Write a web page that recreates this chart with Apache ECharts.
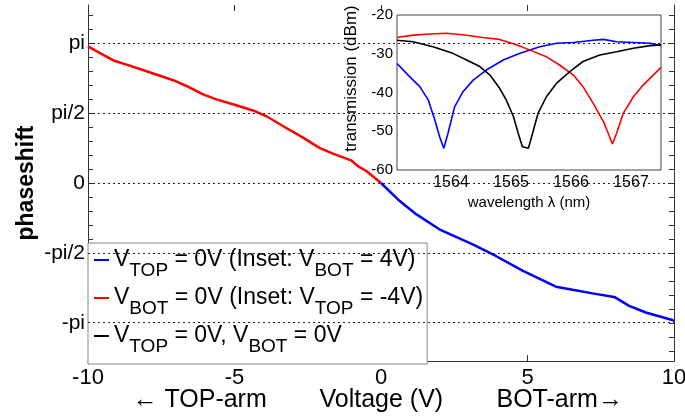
<!DOCTYPE html>
<html>
<head>
<meta charset="utf-8">
<script src="https://cdn.jsdelivr.net/npm/echarts@6/dist/echarts.min.js"></script>
<style>
  html, body { margin: 0; padding: 0; background: #fff; }
  #chart { width: 685px; height: 419px; }
</style>
</head>
<body>
<div id="chart"></div>
<script>
'use strict';

// main plot: phase shift vs voltage
var redVolt   = [-10, -9.59, -9.08, -8.68, -8.0, -7.09, -6.64, -6.07, -5.62, -5.05, -4.37, -3.91, -3.35, -2.66, -2.10, -1.64, -1.02, -0.79, -0.50, 0];
var redPhase  = [3.07, 2.92, 2.74, 2.66, 2.51, 2.31, 2.18, 1.99, 1.88, 1.77, 1.63, 1.50, 1.28, 1.02, 0.79, 0.66, 0.51, 0.38, 0.27, 0.0];
var blueVolt  = [0, 0.63, 1.20, 1.99, 3.13, 3.92, 4.83, 5.97, 6.54, 7.22, 7.96, 8.47, 9.04, 9.94, 10];
var bluePhase = [0, -0.40, -0.70, -1.04, -1.38, -1.64, -1.97, -2.33, -2.40, -2.48, -2.56, -2.76, -2.91, -3.08, -3.10];

// inset: transmission spectra
var blueWl = [1563.10, 1563.31, 1563.48, 1563.62, 1563.73, 1563.81, 1563.88, 1563.95, 1564.06, 1564.20, 1564.37, 1564.59, 1564.87, 1565.15, 1565.48, 1565.76, 1566.04, 1566.37, 1566.54, 1566.76, 1567.04, 1567.32, 1567.50];
var blueDb = [-32.5, -35.9, -38.5, -41.9, -47.1, -51.4, -54.4, -50.5, -43.7, -39.8, -36.8, -34.2, -31.6, -29.9, -28.2, -27.3, -27.1, -26.5, -26.3, -26.9, -27.1, -27.3, -27.9];
var redWl  = [1563.10, 1563.37, 1563.65, 1563.92, 1564.20, 1564.53, 1564.81, 1565.09, 1565.31, 1565.59, 1565.81, 1566.04, 1566.20, 1566.37, 1566.54, 1566.62, 1566.69, 1566.76, 1566.87, 1567.04, 1567.20, 1567.37, 1567.50];
var redDb  = [-25.8, -25.2, -24.9, -24.7, -25.1, -25.8, -26.3, -27.7, -29.0, -30.8, -32.9, -35.5, -38.5, -42.8, -47.5, -50.5, -53.3, -50.5, -45.4, -41.1, -38.1, -35.5, -33.5];
var blackWl = [1563.10, 1563.37, 1563.70, 1564.03, 1564.26, 1564.48, 1564.65, 1564.81, 1564.92, 1565.04, 1565.12, 1565.19, 1565.29, 1565.36, 1565.45, 1565.59, 1565.76, 1565.98, 1566.20, 1566.48, 1566.76, 1567.04, 1567.32, 1567.50];
var blackDb = [-26.5, -26.9, -28.2, -29.9, -31.6, -33.3, -35.5, -38.9, -41.9, -46.2, -50.5, -54.0, -54.4, -50.5, -45.4, -41.1, -37.6, -34.6, -32.0, -30.3, -29.5, -28.6, -27.9, -27.7];

var insetTicks = [1564, 1565, 1566, 1567];
var phaseLabels = [-Math.PI, -Math.PI / 2, 0, Math.PI / 2, Math.PI];
var phaseNames = ['-pi', '-pi/2', '0', 'pi/2', 'pi'];

var blueName  = 'V_TOP = 0V (Inset: V_BOT = 4V)';
var redName   = 'V_BOT = 0V (Inset: V_TOP = -4V)';
var blackName = 'V_TOP = 0V, V_BOT = 0V';

var FONT = 'Liberation Sans, Arial, sans-serif';

function zip(a, b) {
    var out = [];
    for (var i = 0; i < a.length; i++) out.push([a[i], b[i]]);
    return out;
}

// minor ticks every pi/10
var phaseTicks = [];
for (var k = -12; k <= 12; k++) phaseTicks.push(k * Math.PI / 10);

function phaseLabel(v) {
    for (var i = 0; i < phaseLabels.length; i++) {
        if (Math.abs(v - phaseLabels[i]) < 1e-6) return phaseNames[i];
    }
    return '';
}

// turns V_TOP into V with subscript TOP
function richName(n) {
    return n.split(/_(TOP|BOT)/).map(function (p, i) {
        if (!p) return '';
        return (i % 2 ? '{s|' : '{m|') + p + '}';
    }).join('');
}

var chart = echarts.init(document.getElementById('chart'));

var option = {
    backgroundColor: '#ffffff',
    animation: false,
    textStyle: { fontFamily: FONT, color: '#000' },
    grid: [
        { left: 88, right: 11, top: 5, bottom: 58, outerBoundsMode: 'none' },
        { left: 397, top: 15, width: 264, height: 155, z: 3, show: true, outerBoundsMode: 'none',
          backgroundColor: '#fff', borderColor: '#444', borderWidth: 1 }
    ],
    legend: {
        orient: 'vertical',
        left: 88, top: 243,
        data: [blueName, redName, blackName],
        icon: 'rect',
        itemWidth: 15, itemHeight: 2,
        itemGap: 6,
        padding: [5, 4, 8, 6],
        backgroundColor: '#fff',
        borderColor: '#888', borderWidth: 1, borderRadius: 0,
        formatter: richName,
        textStyle: {
            color: '#000',
            rich: {
                m: { fontFamily: FONT, fontSize: 23, lineHeight: 24, verticalAlign: 'top', color: '#000' },
                s: { fontFamily: FONT, fontSize: 19, lineHeight: 18, verticalAlign: 'top', padding: [13, 0, 0, 0], color: '#000' }
            }
        }
    },
    xAxis: [
        {
            gridIndex: 0, type: 'value', min: -10, max: 10, interval: 5,
            axisLine: { onZero: false, lineStyle: { color: '#333' } },
            axisTick: { inside: true, length: 6, lineStyle: { color: '#333' } },
            axisLabel: { fontSize: 22, color: '#000', margin: 6, fontFamily: FONT },
            splitLine: { show: false },
            name: '{a|\u2190 TOP-arm}{b|Voltage (V)}{c|BOT-arm\u2192}',
            nameLocation: 'middle', nameGap: 27, nameMoveOverlap: false,
            nameTextStyle: {
                rich: {
                    a: { fontFamily: FONT, fontSize: 25, width: 187, align: 'left', color: '#000' },
                    b: { fontFamily: FONT, fontSize: 25, width: 177, align: 'left', color: '#000' },
                    c: { fontFamily: FONT, fontSize: 25, width: 133, align: 'left', color: '#000' }
                }
            }
        },
        {
            gridIndex: 0, type: 'value', min: -10, max: 10, interval: 5, position: 'top',
            axisLine: { show: false, onZero: false },
            axisTick: { inside: true, length: 6, lineStyle: { color: '#333' } },
            axisLabel: { show: false },
            splitLine: { show: false }
        },
        {
            gridIndex: 1, type: 'value', min: 1563.1, max: 1567.5, z: 4,
            axisLine: { show: false, onZero: false },
            axisTick: { show: false },
            axisLabel: { fontSize: 16, color: '#000', margin: 5, fontFamily: FONT,
                         customValues: insetTicks, formatter: function (v) { return String(v); } },
            splitLine: { show: false },
            name: 'wavelength \u03bb (nm)', nameLocation: 'middle', nameGap: 25,
            nameTextStyle: { fontSize: 15, color: '#000', fontFamily: FONT }
        }
    ],
    yAxis: [
        {
            gridIndex: 0, type: 'value', min: -4, max: 4,
            axisLine: { show: true, onZero: false, lineStyle: { color: '#333' } },
            axisTick: { inside: true, length: 5, customValues: phaseTicks, lineStyle: { color: '#333' } },
            axisLabel: { fontSize: 21, color: '#000', margin: 3, fontFamily: FONT,
                         customValues: phaseLabels, formatter: phaseLabel },
            splitLine: { show: false },
            name: 'phaseshift', nameLocation: 'middle', nameGap: 50, nameMoveOverlap: false,
            nameTextStyle: { fontSize: 23, fontWeight: 'bold', color: '#000', fontFamily: FONT }
        },
        {
            gridIndex: 0, type: 'value', min: -4, max: 4, position: 'right',
            axisLine: { show: true, onZero: false, lineStyle: { color: '#333' } },
            axisTick: { inside: true, length: 5, customValues: phaseTicks, lineStyle: { color: '#333' } },
            axisLabel: { show: false },
            splitLine: { show: false }
        },
        {
            gridIndex: 1, type: 'value', min: -60, max: -20, interval: 10, z: 4,
            axisLine: { show: false, onZero: false },
            axisTick: { show: false },
            axisLabel: { fontSize: 15, color: '#000', margin: 4, fontFamily: FONT },
            splitLine: { show: false },
            name: 'transmission (dBm)', nameLocation: 'middle', nameGap: 37,
            nameTextStyle: { fontSize: 17, color: '#000', fontFamily: FONT, padding: [0, 0, 0, 28] }
        }
    ],
    series: [
        {
            name: redName, type: 'line', xAxisIndex: 0, yAxisIndex: 0,
            data: zip(redVolt, redPhase), showSymbol: false, z: 2,
            color: '#ff0000', lineStyle: { width: 2.5, color: '#ff0000' },
            markLine: {
                silent: true, symbol: 'none',
                label: { show: false },
                lineStyle: { type: [2, 3], color: '#222', width: 1 },
                data: phaseLabels.map(function (v) { return { yAxis: v }; })
            }
        },
        {
            name: blueName, type: 'line', xAxisIndex: 0, yAxisIndex: 0,
            data: zip(blueVolt, bluePhase), showSymbol: false, z: 2,
            color: '#0000ff', lineStyle: { width: 2.5, color: '#0000ff' }
        },
        {
            name: blueName, type: 'line', xAxisIndex: 2, yAxisIndex: 2,
            data: zip(blueWl, blueDb), showSymbol: false, z: 5,
            color: '#0000ff', lineStyle: { width: 1.6, color: '#0000ff' }
        },
        {
            name: redName, type: 'line', xAxisIndex: 2, yAxisIndex: 2,
            data: zip(redWl, redDb), showSymbol: false, z: 5,
            color: '#ff0000', lineStyle: { width: 1.6, color: '#ff0000' }
        },
        {
            name: blackName, type: 'line', xAxisIndex: 2, yAxisIndex: 2,
            data: zip(blackWl, blackDb), showSymbol: false, z: 5,
            color: '#000000', lineStyle: { width: 1.6, color: '#000000' }
        }
    ]
};

chart.setOption(option);
</script>
</body>
</html>
